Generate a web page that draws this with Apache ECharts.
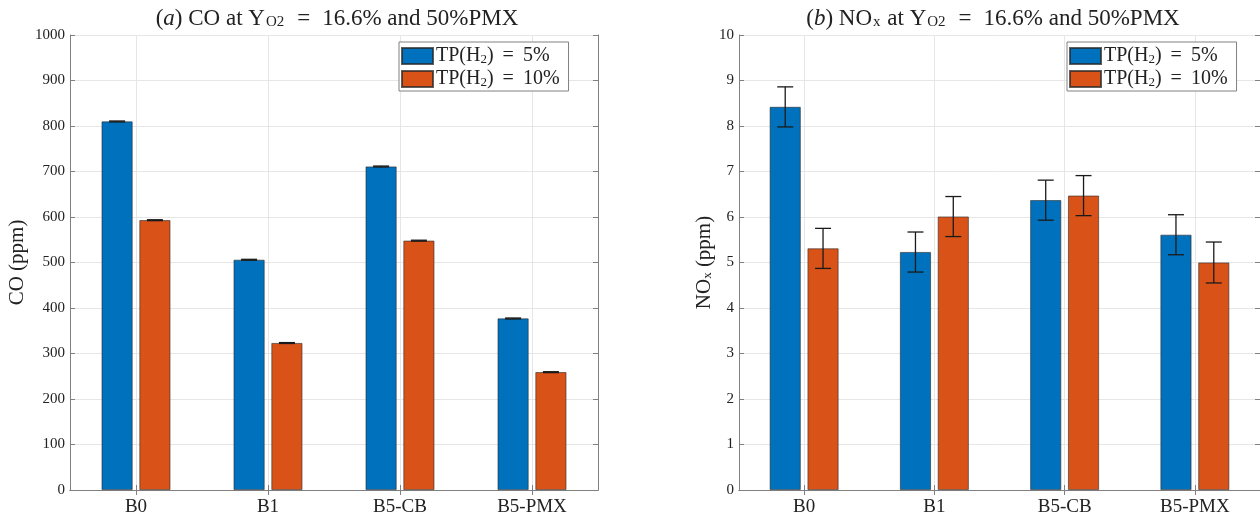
<!DOCTYPE html>
<html>
<head>
<meta charset="utf-8">
<script src="https://cdn.jsdelivr.net/npm/echarts@6/dist/echarts.min.js"></script>
<style>
  html, body { margin: 0; background: #fff; }
  #chart { width: 1260px; height: 517px; }
</style>
</head>
<body>
<div id="chart"></div>
<script>
// ---- data ----
const categories = ['B0', 'B1', 'B5-CB', 'B5-PMX']
const seriesNames = ['TP(H2) = 5%', 'TP(H2) = 10%']

const co5 = [810, 506, 711, 377]
const co10 = [593, 323, 548, 259]
const coErr5 = [1, 1, 1, 1]
const coErr10 = [1, 1, 1, 1]

const nox5 = [8.42, 5.23, 6.37, 5.61]
const nox10 = [5.31, 6.01, 6.47, 5.00]
const noxErr5 = [0.44, 0.44, 0.44, 0.44]
const noxErr10 = [0.44, 0.44, 0.44, 0.45]

const coAxis = { min: 0, max: 1000, interval: 100 }
const noxAxis = { min: 0, max: 10, interval: 1 }

// ---- styling ----
const FONT = 'Liberation Serif'
const BLUE = '#0072BD'
const ORANGE = '#D95319'
const AXIS = '#808080'
const GRIDLINE = '#e6e6e6'
const BAR_W = 31
const BAR_GAP = 0.22
const SHIFT = (BAR_W + BAR_W * BAR_GAP) / 2

const sub = { fontSize: 13, fontFamily: FONT, color: '#222', padding: [7, 0, 0, 0] }
const tsub = { fontSize: 15, fontFamily: FONT, color: '#222', padding: [8, 1, 0, 1] }
const ital = { fontStyle: 'italic', fontFamily: FONT, fontSize: 23, color: '#222' }
const eq = { fontFamily: FONT, fontSize: 23, color: '#222', padding: [0, 12, 0, 12] }
const leq = { fontFamily: FONT, fontSize: 20, color: '#222', padding: [0, 9, 0, 9] }

const chart = echarts.init(document.getElementById('chart'))

function xAxes (gi) {
  return [{
    type: 'category', gridIndex: gi, data: categories, position: 'bottom',
    axisLine: { lineStyle: { color: AXIS, width: 1 } },
    axisTick: { show: true, inside: true, alignWithLabel: true, length: 5, lineStyle: { color: AXIS } },
    axisLabel: { fontFamily: FONT, fontSize: 19, color: '#222', margin: 8 },
    splitLine: { show: true, alignWithLabel: true, lineStyle: { color: GRIDLINE } }
  }, {
    type: 'category', gridIndex: gi, data: categories, position: 'top',
    axisLine: { lineStyle: { color: AXIS, width: 1 } },
    axisTick: { show: true, inside: true, alignWithLabel: true, length: 5, lineStyle: { color: AXIS } },
    axisLabel: { show: false },
    splitLine: { show: false }
  }]
}

function yAxes (gi, range, name, nameGap) {
  return [{
    type: 'value', gridIndex: gi, position: 'left', ...range,
    name: name, nameLocation: 'middle', nameGap: nameGap,
    nameTextStyle: { fontFamily: FONT, fontSize: 21, color: '#222', rich: { s: sub } },
    axisLine: { show: true, lineStyle: { color: AXIS, width: 1 } },
    axisTick: { show: true, inside: true, length: 5, lineStyle: { color: AXIS } },
    axisLabel: { fontFamily: FONT, fontSize: 15, color: '#222', margin: 5, formatter: v => String(v) },
    splitLine: { show: true, lineStyle: { color: GRIDLINE } }
  }, {
    type: 'value', gridIndex: gi, position: 'right', ...range,
    axisLine: { show: true, lineStyle: { color: AXIS, width: 1 } },
    axisTick: { show: true, inside: true, length: 5, lineStyle: { color: AXIS } },
    axisLabel: { show: false },
    splitLine: { show: false }
  }]
}

function barSeries (name, xi, yi, vals, color) {
  return {
    name: name, type: 'bar', xAxisIndex: xi, yAxisIndex: yi,
    data: vals, barWidth: BAR_W, barGap: (BAR_GAP * 100) + '%',
    itemStyle: { color: color, borderColor: 'rgba(40,40,40,0.75)', borderWidth: 0.8 },
    emphasis: { disabled: true }, animation: false
  }
}

function errSeries (xi, yi, vals, errs, side) {
  return {
    type: 'custom', xAxisIndex: xi, yAxisIndex: yi, z: 5, silent: true, animation: false,
    data: vals.map((v, i) => [i, v - errs[i], v + errs[i]]),
    renderItem: function (params, api) {
      const lo = api.coord([api.value(0), api.value(1)])
      const hi = api.coord([api.value(0), api.value(2)])
      const x = lo[0] + side * SHIFT
      const cap = 8
      const st = { stroke: '#1a1a1a', lineWidth: 1.3 }
      return {
        type: 'group',
        children: [
          { type: 'line', shape: { x1: x, y1: lo[1], x2: x, y2: hi[1] }, style: st },
          { type: 'line', shape: { x1: x - cap, y1: hi[1], x2: x + cap, y2: hi[1] }, style: st },
          { type: 'line', shape: { x1: x - cap, y1: lo[1], x2: x + cap, y2: lo[1] }, style: st }
        ]
      }
    }
  }
}

function legend (left) {
  return {
    left: left, top: 42, orient: 'vertical', itemWidth: 31, itemHeight: 16, itemGap: 3,
    padding: [4, 9, 2, 2], borderColor: AXIS, borderWidth: 1, backgroundColor: '#fff',
    icon: 'rect', selectedMode: false, data: seriesNames,
    textStyle: { fontFamily: FONT, fontSize: 20, color: '#222', padding: [0, 0, 0, -2], rich: { s: sub, e: leq } },
    formatter: n => n.replace('H2', 'H{s|2}').replace(' = ', '{e|=}')
  }
}

const titleStyle = { fontFamily: FONT, fontSize: 23, fontWeight: 'normal', color: '#222', rich: { i: ital, s: tsub, e: eq } }

const option = {
  backgroundColor: '#fff',
  animation: false,
  title: [{
    text: '({i|a}) CO at Y{s|O2}{e|=}16.6% and 50%PMX',
    left: 332, top: 2, textAlign: 'center', textStyle: titleStyle
  }, {
    text: '({i|b}) NO{s|x} at Y{s|O2}{e|=}16.6% and 50%PMX',
    left: 988, top: 2, textAlign: 'center', textStyle: titleStyle
  }],
  legend: [legend(399), legend(1067)],
  grid: [
    { left: 70, top: 35, width: 528, height: 456 },
    { left: 739, top: 35, width: 528, height: 456 }
  ],
  xAxis: [...xAxes(0), ...xAxes(1)],
  yAxis: [...yAxes(0, coAxis, 'CO (ppm)', 42), ...yAxes(1, noxAxis, 'NO{s|x} (ppm)', 24)],
  series: [
    barSeries(seriesNames[0], 0, 0, co5, BLUE),
    barSeries(seriesNames[1], 0, 0, co10, ORANGE),
    errSeries(0, 0, co5, coErr5, -1),
    errSeries(0, 0, co10, coErr10, 1),
    barSeries(seriesNames[0], 2, 2, nox5, BLUE),
    barSeries(seriesNames[1], 2, 2, nox10, ORANGE),
    errSeries(2, 2, nox5, noxErr5, -1),
    errSeries(2, 2, nox10, noxErr10, 1)
  ]
}

chart.setOption(option)
</script>
</body>
</html>
